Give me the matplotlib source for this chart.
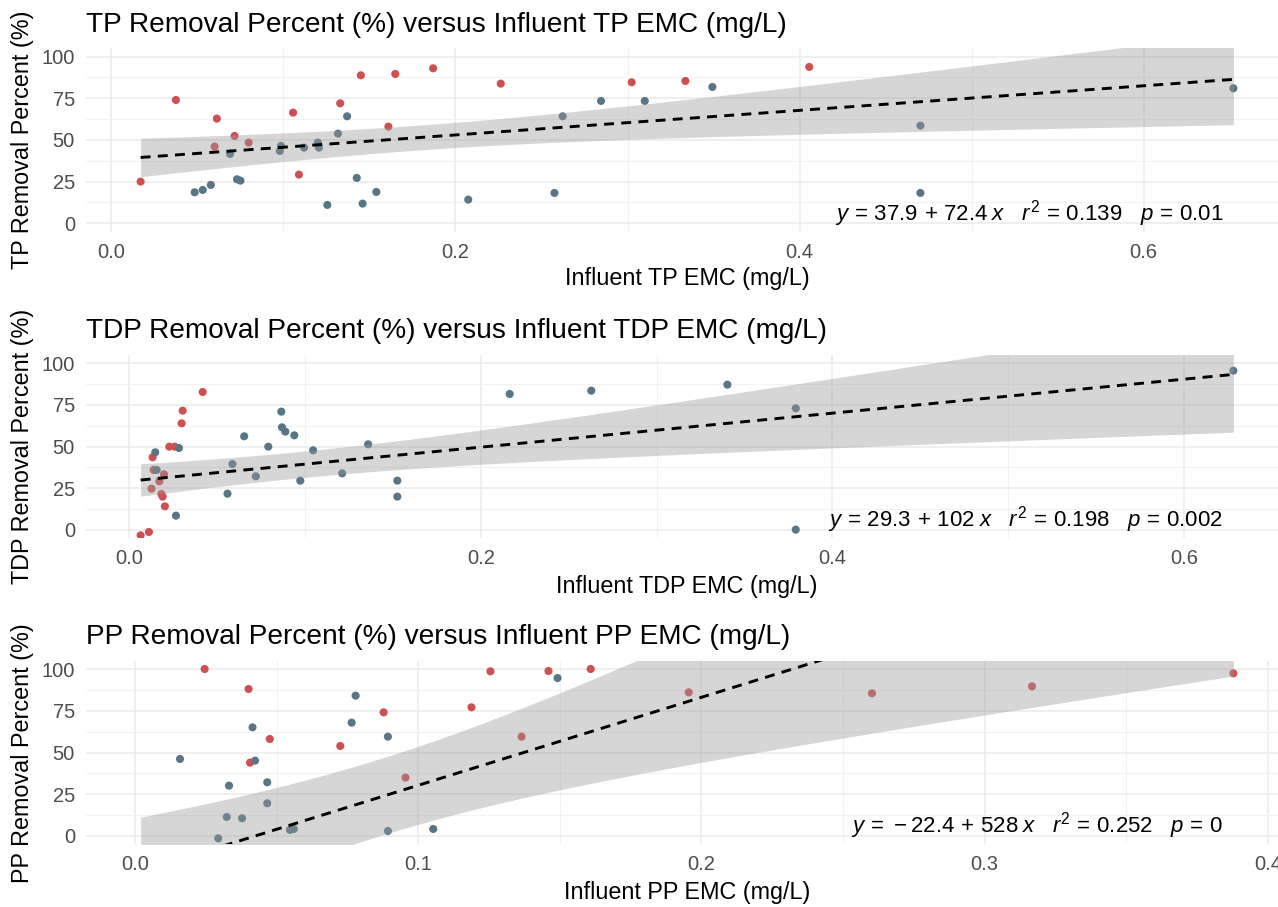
import numpy as np
import matplotlib
matplotlib.use("Agg")
import matplotlib.pyplot as plt
from matplotlib.ticker import MultipleLocator, FuncFormatter

plt.rcParams['font.family'] = ['Liberation Sans', 'DejaVu Sans']
plt.rcParams['mathtext.fontset'] = 'custom'
plt.rcParams['mathtext.rm'] = 'Liberation Sans'
plt.rcParams['mathtext.it'] = 'Liberation Sans:italic'

# ---------------- data ----------------
# TP panel
tp_red_x = [0.017, 0.0375, 0.060, 0.0613, 0.0716, 0.0798, 0.1056, 0.109, 0.133, 0.145, 0.161, 0.165,
            0.187, 0.2263, 0.3024, 0.3336, 0.4056]
tp_red_y = [25, 74, 46, 62.8, 52.4, 48.4, 66.4, 29.2, 72, 88.8, 58, 89.6, 93, 83.8, 84.6, 85.4, 93.8]
tp_blue_x = [0.0484, 0.0531, 0.0578, 0.069, 0.073, 0.075, 0.0979, 0.0986, 0.112, 0.120, 0.1206, 0.1255,
             0.1317, 0.137, 0.1426, 0.146, 0.154, 0.2074, 0.2575, 0.2623, 0.2846, 0.31, 0.3493, 0.4702,
             0.4702, 0.6521]
tp_blue_y = [18.6, 20, 23, 41.6, 26.4, 25.6, 43.4, 46.4, 45.4, 48.4, 45.4, 11, 53.8, 64.2, 27.2, 11.8,
             18.8, 14.2, 18.2, 64.2, 73.4, 73.4, 81.8, 58.6, 18.2, 81]
tp_hidden_x = []
tp_hidden_y = []

# TDP panel
tdp_red_x = [0.0065, 0.0112, 0.0133, 0.0139, 0.0127, 0.0171, 0.0198, 0.0183, 0.019, 0.0203, 0.0228,
             0.0259, 0.0298, 0.0304, 0.0418]
tdp_red_y = [-3.2, -1.2, 43.6, 36, 24.8, 29.2, 33.4, 21.6, 20, 14.2, 50, 50, 64, 71.6, 82.8]
tdp_blue_x = [0.0148, 0.0156, 0.0283, 0.0266, 0.0559, 0.0587, 0.0654, 0.072, 0.0791, 0.0865, 0.0869,
              0.0888, 0.0939, 0.0973, 0.1046, 0.1211, 0.1359, 0.1525, 0.1525, 0.2164, 0.2628, 0.3402,
              0.3791, 0.3791, 0.628]
tdp_blue_y = [46.6, 36, 49.2, 8.6, 21.8, 39.6, 56.2, 32.2, 50, 71, 61.6, 59, 56.8, 29.6, 47.8, 34,
              51.4, 29.6, 20, 81.6, 83.6, 87.2, 73, 0.2, 95.6]
# observations below the displayed y-range (estimated; they shape the fit but are clipped)
tdp_hidden_x = [0.020, 0.035, 0.049, 0.0632]
tdp_hidden_y = [-12.3, -10.7, -9.3, -7.9]

# PP panel
pp_red_x = [0.0246, 0.0401, 0.0406, 0.0476, 0.0725, 0.0878, 0.0955, 0.1188, 0.1255, 0.1365, 0.146,
            0.1609, 0.1955, 0.2602, 0.3167, 0.3878]
pp_red_y = [100.2, 88.2, 44, 58.2, 54, 74.2, 35, 77.2, 98.8, 59.6, 99, 100.2, 86.2, 85.6, 89.8, 97.6]
pp_blue_x = [0.0159, 0.0324, 0.0332, 0.0294, 0.0378, 0.0415, 0.0424, 0.0467, 0.0467, 0.0547, 0.0561,
             0.0765, 0.0779, 0.0893, 0.0893, 0.1053, 0.1492]
pp_blue_y = [46.2, 11.4, 30.2, -1.4, 10.6, 65.2, 45.2, 32.2, 19.6, 3.6, 4.2, 68, 84.2, 59.6, 3, 4.2, 94.8]
pp_hidden_x = [0.002, 0.006, 0.010, 0.013, 0.016, 0.0208]
pp_hidden_y = [-160.6, -158.5, -156.4, -154.8, -153.2, -150.7]

titles = ["TP Removal Percent (%) versus Influent TP EMC (mg/L)",
          "TDP Removal Percent (%) versus Influent TDP EMC (mg/L)",
          "PP Removal Percent (%) versus Influent PP EMC (mg/L)"]
xlabels = ["Influent TP EMC (mg/L)", "Influent TDP EMC (mg/L)", "Influent PP EMC (mg/L)"]
ylabels = ["TP Removal Percent (%)", "TDP Removal Percent (%)", "PP Removal Percent (%)"]
equations = [r"$y\,=\,37.9\,+\,72.4\;x\quad r^2\,=\,0.139\quad p\,=\,0.01$",
             r"$y\,=\,29.3\,+\,102\;x\quad r^2\,=\,0.198\quad p\,=\,0.002$",
             r"$y\,=\,-22.4\,+\,528\;x\quad r^2\,=\,0.252\quad p\,=\,0$"]
y_ticks = [0, 25, 50, 75, 100]

RED = '#CF5050'
BLUE = '#587686'

W, H = 1278, 907
fig = plt.figure(figsize=(W / 100, H / 100), dpi=100)

panels = [
    (tp_red_x, tp_red_y, tp_blue_x, tp_blue_y, tp_hidden_x, tp_hidden_y, 48.3, 231.6, 0.2, 278),
    (tdp_red_x, tdp_red_y, tdp_blue_x, tdp_blue_y, tdp_hidden_x, tdp_hidden_y, 355.0, 538.3, 0.2, 587),
    (pp_red_x, pp_red_y, pp_blue_x, pp_blue_y, pp_hidden_x, pp_hidden_y, 661.0, 844.3, 0.1, 893),
]
left_px, right_px = 86, 1288
for i, (rx, ry, bx, by, hx, hy, top, bot, xmaj, xlab_y) in enumerate(panels):
    ax = fig.add_axes([left_px / W, 1 - bot / H, (right_px - left_px) / W, (bot - top) / H])
    x = np.array(rx + bx + hx, float)
    y = np.array(ry + by + hy, float)
    n = len(x)
    xbar = x.mean()
    sxx = ((x - xbar) ** 2).sum()
    slope = ((x - xbar) * (y - y.mean())).sum() / sxx
    icpt = y.mean() - slope * xbar
    resid = y - (icpt + slope * x)
    s = np.sqrt((resid ** 2).sum() / (n - 2))
    df = n - 2
    tq = 1.96 + (1.96 ** 3 + 1.96) / (4 * df)
    xs = np.linspace(x.min(), x.max(), 200)
    yh = icpt + slope * xs
    se = s * np.sqrt(1 / n + (xs - xbar) ** 2 / sxx)

    xr = x.max() - x.min()
    ax.set_xlim(x.min() - 0.05 * xr, x.max() + 0.05 * xr)
    ax.set_ylim(-5, 105)

    ax.scatter(rx, ry, s=34, color=RED, edgecolors='none', zorder=3)
    ax.scatter(bx, by, s=34, color=BLUE, edgecolors='none', zorder=3)
    if hx:
        ax.scatter(hx, hy, s=34, color=BLUE, edgecolors='none', zorder=3)
    ax.fill_between(xs, yh - tq * se, yh + tq * se, color='#999999', alpha=0.4, lw=0, zorder=4)
    ax.plot(xs, yh, color='black', lw=2.1, ls=(0, (3.4, 2.5)), zorder=5)

    ax.xaxis.set_major_locator(MultipleLocator(xmaj))
    ax.xaxis.set_minor_locator(MultipleLocator(xmaj / 2))
    ax.set_yticks(y_ticks)
    ax.yaxis.set_minor_locator(MultipleLocator(12.5))
    ax.grid(which='major', color='#EBEBEB', lw=1.1, zorder=0)
    ax.grid(which='minor', color='#F2F2F2', lw=0.8, zorder=0)
    ax.set_axisbelow(True)
    for sp in ax.spines.values():
        sp.set_visible(False)
    ax.tick_params(which='both', length=0, labelsize=14.5, labelcolor='#4D4D4D', pad=8)
    ax.xaxis.set_major_formatter(FuncFormatter(lambda v, p: f"{v:.1f}"))

    fig.text(86 / W, 1 - (31.7 + (top - 48.3)) / H, titles[i], fontsize=20.2, ha='left', va='baseline')
    fig.text(687 / W, 1 - xlab_y / H, xlabels[i], fontsize=16.8, ha='center', va='center')
    fig.text(23 / W, 1 - ((top + bot) / 2) / H, ylabels[i], fontsize=16.8, rotation=90,
             ha='center', va='center')
    eq_y = bot - 18.5
    fig.text(1223 / W, 1 - eq_y / H, equations[i], fontsize=16, ha='right', va='center')

fig.savefig("out.png", dpi=100)
